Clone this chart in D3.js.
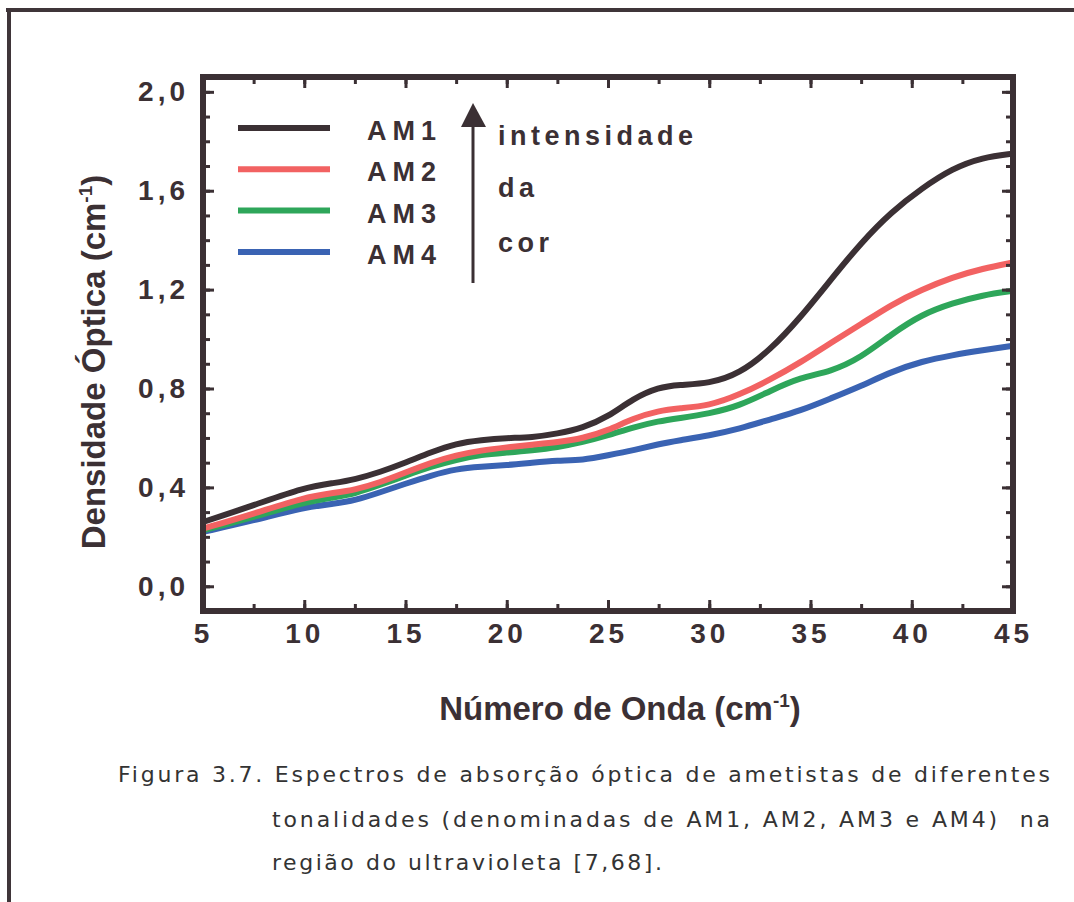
<!DOCTYPE html>
<html>
<head>
<meta charset="utf-8">
<script src="https://cdn.jsdelivr.net/npm/d3@7"></script>
<style>
body{margin:0;background:#fff;}
text{font-family:"Liberation Sans",Arial,sans-serif;}
</style>
</head>
<body>
<svg id="fig" width="1074" height="902"></svg>
<script>
// numero de onda (cm-1)
var wavenumber = [5,7.5,10,11.5,12.5,13.75,15,16.25,17.5,18.75,20,21.25,22.5,23.75,25,26.25,27.5,28.5,30,31.5,33,34.5,36,37.5,39,40.5,42,43.5,45];
// densidade optica das quatro ametistas
var am1 = [0.26,0.327,0.40,0.418,0.432,0.462,0.50,0.542,0.578,0.592,0.60,0.602,0.617,0.64,0.685,0.76,0.805,0.815,0.82,0.86,0.955,1.087,1.24,1.39,1.515,1.61,1.69,1.735,1.75];
var am2 = [0.233,0.293,0.36,0.378,0.39,0.42,0.46,0.50,0.53,0.55,0.562,0.573,0.583,0.598,0.63,0.68,0.71,0.72,0.73,0.775,0.835,0.905,0.985,1.06,1.14,1.2,1.25,1.285,1.31];
var am3 = [0.226,0.28,0.34,0.36,0.375,0.41,0.448,0.484,0.512,0.533,0.541,0.55,0.562,0.583,0.61,0.643,0.668,0.68,0.698,0.73,0.79,0.845,0.868,0.925,1.02,1.1,1.145,1.178,1.195];
var am4 = [0.22,0.266,0.32,0.334,0.347,0.38,0.415,0.448,0.475,0.484,0.49,0.50,0.509,0.51,0.53,0.55,0.575,0.59,0.61,0.637,0.675,0.71,0.76,0.81,0.868,0.91,0.935,0.955,0.973];
var nomes = ["AM1","AM2","AM3","AM4"];
var xLabels = [5,10,15,20,25,30,35,40,45];
var yLabels = [0,0.4,0.8,1.2,1.6,2.0];
var notas = ["intensidade","da","cor"];
var legenda = [
  "Figura 3.7. Espectros de absorção óptica de ametistas de diferentes",
  "tonalidades (denominadas de AM1, AM2, AM3 e AM4)  na",
  "região do ultravioleta [7,68]."
];

var cores = ["#3b3034","#f26262","#2ea65a","#3a63b3"];
var tinta = "#3b3034";

var svg = d3.select("#fig");
var pLeft = 203, pRight = 1013, pTop = 77, pBottom = 611;

var x = d3.scaleLinear().domain([5,45]).range([pLeft,pRight]);
var y = d3.scaleLinear().domain([-0.1,2.06]).range([pBottom,pTop]);

// moldura da pagina
svg.append("line").attr("x1",6).attr("y1",10).attr("x2",1074).attr("y2",10)
  .attr("stroke","#3f3539").attr("stroke-width",4);
svg.append("line").attr("x1",9).attr("y1",8).attr("x2",9).attr("y2",902)
  .attr("stroke","#3f3539").attr("stroke-width",4);

// curvas
var linha = d3.line()
  .x(function(d){return x(d[0]);})
  .y(function(d){return y(d[1]);})
  .curve(d3.curveBasis);
var dados = [am1,am2,am3,am4];
for(var k=dados.length-1;k>=0;k--){
  var pts = wavenumber.map(function(w,i){return [w,dados[k][i]];});
  svg.append("path").datum(pts)
    .attr("d",linha)
    .attr("fill","none")
    .attr("stroke",cores[k])
    .attr("stroke-width",6)
    .attr("stroke-linecap","round")
    .attr("stroke-linejoin","round");
}

// eixos com ticks para dentro
function estilo(g){
  g.select(".domain").remove();
  g.selectAll(".tick line").attr("stroke",tinta).attr("stroke-width",3);
}
var minX = d3.range(5,45.1,2.5), minY = d3.range(0,2.01,0.1);
svg.append("g").attr("transform","translate(0,"+pBottom+")")
  .call(d3.axisBottom(x).tickValues(minX).tickSize(-7).tickFormat("")).call(estilo);
svg.append("g").attr("transform","translate(0,"+pTop+")")
  .call(d3.axisTop(x).tickValues(minX).tickSize(-7).tickFormat("")).call(estilo);
svg.append("g").attr("transform","translate(0,"+pBottom+")")
  .call(d3.axisBottom(x).tickValues(xLabels).tickSize(-11).tickPadding(12)).call(estilo);
svg.append("g").attr("transform","translate(0,"+pTop+")")
  .call(d3.axisTop(x).tickValues(xLabels).tickSize(-11).tickFormat("")).call(estilo);

svg.append("g").attr("transform","translate("+pLeft+",0)")
  .call(d3.axisLeft(y).tickValues(minY).tickSize(-7).tickFormat("")).call(estilo);
svg.append("g").attr("transform","translate("+pRight+",0)")
  .call(d3.axisRight(y).tickValues(minY).tickSize(-7).tickFormat("")).call(estilo);
svg.append("g").attr("transform","translate("+pLeft+",0)")
  .call(d3.axisLeft(y).tickValues(yLabels).tickSize(-11).tickPadding(14)
    .tickFormat(function(d){return d3.format(".1f")(d).replace(".",",");})).call(estilo);
svg.append("g").attr("transform","translate("+pRight+",0)")
  .call(d3.axisRight(y).tickValues(yLabels).tickSize(-11).tickFormat("")).call(estilo);

svg.selectAll(".tick text")
  .attr("fill",tinta)
  .style("font-family","'Liberation Sans',Arial,sans-serif")
  .style("font-size","28px")
  .style("font-weight","bold")
  .style("letter-spacing","4px");

// linhas da moldura do grafico
svg.append("rect").attr("x",pLeft).attr("y",pTop)
  .attr("width",pRight-pLeft).attr("height",pBottom-pTop)
  .attr("fill","none").attr("stroke",tinta).attr("stroke-width",6);

// titulos dos eixos
var tx = svg.append("text").attr("x",(pLeft+pRight)/2+12).attr("y",720)
  .attr("text-anchor","middle").attr("fill",tinta)
  .style("font-size","33px").style("font-weight","bold");
tx.append("tspan").text("Número de Onda (cm");
tx.append("tspan").attr("dy",-13).style("font-size","19px").text("-1");
tx.append("tspan").attr("dy",13).text(")");

var ty = svg.append("text").attr("transform","translate(105,362) rotate(-90)")
  .attr("text-anchor","middle").attr("fill",tinta)
  .style("font-size","33px").style("font-weight","bold");
ty.append("tspan").text("Densidade Óptica (cm");
ty.append("tspan").attr("dy",-13).style("font-size","19px").text("-1");
ty.append("tspan").attr("dy",13).text(")");

// legenda
nomes.forEach(function(n,i){
  var ly = 128 + i*41.3;
  svg.append("line").attr("x1",238).attr("x2",330).attr("y1",ly).attr("y2",ly)
    .attr("stroke",cores[i]).attr("stroke-width",6);
  svg.append("text").attr("x",367).attr("y",ly+12).attr("fill",tinta)
    .style("font-size","27px").style("font-weight","bold")
    .style("letter-spacing","6px").text(n);
});

// seta de intensidade da cor
svg.append("line").attr("x1",473).attr("x2",473).attr("y1",283).attr("y2",120)
  .attr("stroke",tinta).attr("stroke-width",3);
svg.append("path").attr("d","M473,103 L461,127 L486,127 Z").attr("fill",tinta);
var notaY = [145,197,252];
notas.forEach(function(t,i){
  svg.append("text").attr("x",498).attr("y",notaY[i]).attr("fill",tinta)
    .style("font-size","27px").style("font-weight","bold")
    .style("letter-spacing","4.5px").text(t);
});

// legenda da figura
var capX = [118,272,272], capY = [782,827,870], capW = [932,778,390];
legenda.forEach(function(t,i){
  svg.append("text").attr("x",capX[i]).attr("y",capY[i])
    .attr("fill","#333")
    .attr("textLength",capW[i]).attr("lengthAdjust","spacing")
    .style("white-space","pre")
    .style("font-family","'DejaVu Sans',Verdana,sans-serif")
    .style("font-size","22px").text(t);
});
</script>
</body>
</html>
